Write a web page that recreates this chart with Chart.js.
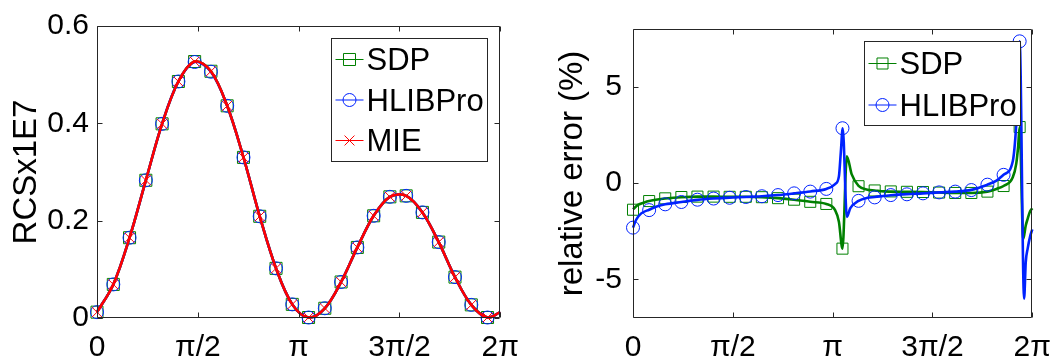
<!DOCTYPE html>
<html><head><meta charset="utf-8">
<script src="https://cdn.jsdelivr.net/npm/chart.js@4.4.1/dist/chart.umd.min.js"></script>
<style>
html,body{margin:0;padding:0;background:#fff;}
#wrap{position:relative;width:1063px;height:363px;overflow:hidden;background:#fff;}
canvas{position:absolute;top:0;}
</style></head><body>
<div id="wrap">
<canvas id="c1" width="531" height="363" style="left:0"></canvas>
<canvas id="c2" width="532" height="363" style="left:531px"></canvas>
</div>
<script>
const PI = Math.PI;
// x ticks (shared)
const xTickValues = [0, PI/2, PI, 3*PI/2, 2*PI];
const xTickLabels = ['0', 'π/2', 'π', '3π/2', '2π'];

// ---- Left panel: RCS ----
const rcsYTicks = [0, 0.2, 0.4, 0.6];
const rcsYTickLabels = ['0', '0.2', '0.4', '0.6'];
const rcsTheta = [0, 0.254, 0.507, 0.761, 1.014, 1.268, 1.521, 1.775, 2.028, 2.282, 2.535, 2.789, 3.042,
                  3.296, 3.549, 3.803, 4.056, 4.310, 4.563, 4.817, 5.070, 5.324, 5.577, 5.831, 6.084, 6.283];
const rcsSDP     = [0.012, 0.069, 0.165, 0.283, 0.399, 0.486, 0.527, 0.507, 0.436, 0.330, 0.209, 0.102, 0.028,
                    0.001, 0.020, 0.074, 0.145, 0.210, 0.249, 0.251, 0.217, 0.156, 0.084, 0.027, 0.001, 0.012];
const rcsHLIBPro = [0.012, 0.069, 0.165, 0.283, 0.399, 0.486, 0.526, 0.506, 0.436, 0.330, 0.209, 0.102, 0.028,
                    0.001, 0.020, 0.074, 0.145, 0.210, 0.249, 0.251, 0.217, 0.156, 0.084, 0.027, 0.001, 0.012];
const rcsMIE     = [0.012, 0.069, 0.165, 0.283, 0.399, 0.486, 0.527, 0.507, 0.436, 0.330, 0.209, 0.102, 0.028,
                    0.001, 0.020, 0.074, 0.145, 0.210, 0.249, 0.251, 0.217, 0.156, 0.084, 0.027, 0.001, 0.012];
const rcsMarkerCount = 25;

// ---- Right panel: relative error (%) ----
const errYTicks = [-5, 0, 5];
const errYTickLabels = ['-5', '0', '5'];
const errMarkerTheta = [0, 0.254, 0.507, 0.761, 1.014, 1.268, 1.521, 1.775, 2.028, 2.282, 2.535, 2.789, 3.042,
                        3.296, 3.549, 3.803, 4.056, 4.310, 4.563, 4.817, 5.070, 5.324, 5.577, 5.831, 6.084];
const errSDPMarkers = [-1.38, -0.93, -0.79, -0.72, -0.70, -0.70, -0.71, -0.71, -0.73, -0.78, -0.86, -0.97, -1.08,
                       -3.40, -0.16, -0.38, -0.43, -0.45, -0.46, -0.49, -0.51, -0.51, -0.44, -0.15, 2.91];
const errHLIBProMarkers = [-2.31, -1.40, -1.10, -0.98, -0.86, -0.80, -0.76, -0.72, -0.68, -0.62, -0.53, -0.44, -0.30,
                           2.85, -0.92, -0.74, -0.62, -0.58, -0.53, -0.48, -0.44, -0.36, -0.08, 0.43, 7.36];
const errSDPLineTheta = [0, 0.077, 0.18, 0.254, 0.385, 0.507, 0.761, 1.014, 1.268, 1.521, 1.775, 2.028, 2.282, 2.535,
                         2.789, 3.042, 3.18, 3.24, 3.296, 3.365, 3.44, 3.549, 3.69, 3.803, 3.95, 4.056, 4.310, 4.563,
                         4.817, 5.070, 5.324, 5.577, 5.72, 5.831, 5.976, 6.03, 6.06, 6.084, 6.14, 6.18, 6.21, 6.25, 6.283];
const errSDPLine = [-1.36, -1.13, -1.00, -0.93, -0.85, -0.80, -0.73, -0.70, -0.70, -0.71, -0.71, -0.73, -0.78, -0.86,
                    -0.97, -1.08, -1.40, -2.00, -3.40, 1.39, 0.47, -0.14, -0.34, -0.38, -0.43, -0.44, -0.45, -0.46,
                    -0.49, -0.51, -0.51, -0.44, -0.30, -0.15, 0.30, 1.00, 1.90, 2.91, -2.90, -2.20, -1.85, -1.45, -1.30];
const errHLIBProLineTheta = [0, 0.05, 0.13, 0.254, 0.385, 0.507, 0.761, 1.014, 1.268, 1.521, 1.775, 2.028, 2.282, 2.535,
                             2.789, 3.042, 3.18, 3.24, 3.27, 3.300, 3.365, 3.42, 3.549, 3.69, 3.803, 4.056, 4.310, 4.563,
                             4.817, 5.070, 5.324, 5.577, 5.72, 5.831, 5.976, 6.03, 6.06, 6.084, 6.154, 6.18, 6.21, 6.25, 6.283];
const errHLIBProLine = [-2.31, -1.90, -1.57, -1.38, -1.20, -1.10, -0.98, -0.87, -0.80, -0.75, -0.72, -0.68, -0.62, -0.53,
                        -0.43, -0.30, -0.05, 0.35, 1.60, 2.85, -1.75, -1.30, -0.92, -0.76, -0.72, -0.63, -0.57, -0.53,
                        -0.48, -0.44, -0.35, -0.08, 0.13, 0.43, 1.14, 3.00, 5.00, 7.36, -6.00, -4.10, -3.40, -2.75, -2.40];

// colours
const GREEN = '#008000', BLUE = '#0022ff', RED = '#ff0000', AXIS = '#262626';
const FONT = '"Liberation Sans", Arial, Helvetica, sans-serif';
Chart.defaults.font.family = FONT;
Chart.defaults.color = '#000';

function pts(xs, ys, n) {
  const out = [];
  const m = n === undefined ? xs.length : n;
  for (let i = 0; i < m; i++) out.push({x: xs[i], y: ys[i]});
  return out;
}

function drawMarker(ctx, style, x, y, r, color) {
  ctx.save();
  ctx.strokeStyle = color; ctx.lineWidth = 1;
  ctx.beginPath();
  if (style === 'rect') {
    const s = r * Math.SQRT1_2;
    ctx.rect(x - s, y - s, 2 * s, 2 * s);
  } else if (style === 'circle') {
    ctx.arc(x, y, r, 0, 2 * PI);
  } else {
    const s = r * Math.SQRT1_2;
    ctx.moveTo(x - s, y - s); ctx.lineTo(x + s, y + s);
    ctx.moveTo(x - s, y + s); ctx.lineTo(x + s, y - s);
  }
  ctx.stroke();
  ctx.restore();
}

const matAxes = {
  id: 'matAxes',
  afterDraw(chart, args, opts) {
    const {ctx, chartArea: a, scales} = chart;
    const x = scales.x, y = scales.y;
    ctx.save();
    ctx.strokeStyle = AXIS; ctx.lineWidth = 1;
    const L = Math.round(a.left) + 0.5, R = Math.round(a.right) - 0.5;
    const T = Math.round(a.top) + 0.5, B = Math.round(a.bottom) - 0.5;
    ctx.beginPath();
    ctx.rect(L, T, R - L, B - T);
    for (const t of x.ticks) {
      const p = Math.round(x.getPixelForValue(t.value)) + 0.5;
      ctx.moveTo(p, B); ctx.lineTo(p, B - 5);
      ctx.moveTo(p, T); ctx.lineTo(p, T + 5);
    }
    for (const t of y.ticks) {
      const p = Math.round(y.getPixelForValue(t.value)) + 0.5;
      ctx.moveTo(L, p); ctx.lineTo(L + 5, p);
      ctx.moveTo(R, p); ctx.lineTo(R - 5, p);
    }
    ctx.stroke();
    // legend
    const lg = opts.legend;
    if (lg) {
      const bx = Math.round(a.right - lg.inset - lg.width) + 0.5;
      const by = Math.round(a.top + lg.top) + 0.5;
      ctx.fillStyle = '#fff';
      ctx.fillRect(bx, by, lg.width, lg.height);
      ctx.strokeStyle = AXIS; ctx.lineWidth = 1;
      ctx.strokeRect(bx, by, lg.width, lg.height);
      ctx.font = '31px ' + FONT;
      ctx.textBaseline = 'middle';
      ctx.textAlign = 'left';
      lg.items.forEach((it, i) => {
        const cy = by + lg.first + i * lg.step;
        ctx.strokeStyle = it.color; ctx.lineWidth = 1;
        ctx.beginPath();
        ctx.moveTo(bx + 4, cy); ctx.lineTo(bx + 32, cy);
        ctx.stroke();
        drawMarker(ctx, it.style, bx + 18, cy, it.r, it.color);
        ctx.fillStyle = '#000';
        ctx.fillText(it.label, bx + 35, cy + 2);
      });
    }
    ctx.restore();
  }
};

function xScale() {
  return {
    type: 'linear', min: 0, max: 2 * PI,
    grid: {display: false, drawTicks: false}, border: {display: false},
    afterBuildTicks: s => { s.ticks = xTickValues.map(v => ({value: v})); },
    afterFit: s => { s.height = 45; },
    ticks: {
      padding: 12, maxRotation: 0, autoSkip: false,
      font: {size: 30, family: FONT}, color: '#000',
      callback: (v, i) => xTickLabels[i]
    }
  };
}

function yScale(min, max, vals, labels, width, title, tpad, lpad) {
  return {
    type: 'linear', min: min, max: max,
    grid: {display: false, drawTicks: false}, border: {display: false},
    afterBuildTicks: s => { s.ticks = vals.map(v => ({value: v})); },
    afterFit: s => { s.width = width; },
    ticks: {
      padding: lpad, autoSkip: false,
      font: {size: 30, family: FONT}, color: '#000',
      callback: (v, i) => labels[i]
    },
    title: {display: true, text: title, font: {size: 33, family: FONT}, color: '#000', padding: {top: tpad, bottom: 0}}
  };
}

function lineDS(xs, ys, color, order, extra) {
  return Object.assign({
    type: 'line', data: pts(xs, ys), borderColor: color, borderWidth: 2.6,
    pointRadius: 0, fill: false, order: order, clip: 2
  }, extra || {});
}
function markDS(xs, ys, n, color, style, r, order) {
  return {
    type: 'line', data: pts(xs, ys, n), showLine: false, borderColor: color,
    pointStyle: style, pointRadius: r, pointBorderColor: color, pointBackgroundColor: 'rgba(0,0,0,0)',
    pointBorderWidth: 1, order: order, clip: false
  };
}

new Chart(document.getElementById('c1'), {
  type: 'line',
  data: {datasets: [
    markDS(rcsTheta, rcsMIE, rcsMarkerCount, RED, 'crossRot', 7, 1),
    lineDS(rcsTheta, rcsMIE, RED, 2, {tension: 0.35}),
    markDS(rcsTheta, rcsHLIBPro, rcsMarkerCount, BLUE, 'circle', 6.5, 3),
    lineDS(rcsTheta, rcsHLIBPro, BLUE, 4, {tension: 0.35}),
    markDS(rcsTheta, rcsSDP, rcsMarkerCount, GREEN, 'rect', 8.5, 5),
    lineDS(rcsTheta, rcsSDP, GREEN, 6, {tension: 0.35})
  ]},
  options: {
    responsive: false, maintainAspectRatio: false, animation: false, devicePixelRatio: 1,
    events: [],
    layout: {padding: {left: 0, right: 26, top: 21, bottom: 0}},
    plugins: {
      legend: {display: false}, tooltip: {enabled: false},
      matAxes: {legend: {inset: 13, top: 12, width: 156, height: 123, first: 21, step: 40.5, items: [
        {label: 'SDP', color: GREEN, style: 'rect', r: 8.5},
        {label: 'HLIBPro', color: BLUE, style: 'circle', r: 6.5},
        {label: 'MIE', color: RED, style: 'crossRot', r: 7}
      ]}}
    },
    scales: {
      x: xScale(),
      y: yScale(0, 0.6, rcsYTicks, rcsYTickLabels, 97, 'RCSx1E7', 7.5, 8)
    }
  },
  plugins: [matAxes]
});

new Chart(document.getElementById('c2'), {
  type: 'line',
  data: {datasets: [
    markDS(errMarkerTheta, errHLIBProMarkers, errMarkerTheta.length, BLUE, 'circle', 6.5, 1),
    lineDS(errHLIBProLineTheta, errHLIBProLine, BLUE, 2, {cubicInterpolationMode: 'monotone', tension: 0.4}),
    markDS(errMarkerTheta, errSDPMarkers, errMarkerTheta.length, GREEN, 'rect', 7.8, 3),
    lineDS(errSDPLineTheta, errSDPLine, GREEN, 4, {cubicInterpolationMode: 'monotone', tension: 0.4})
  ]},
  options: {
    responsive: false, maintainAspectRatio: false, animation: false, devicePixelRatio: 1,
    events: [],
    layout: {padding: {left: 0, right: 21, top: 21, bottom: 0}},
    plugins: {
      legend: {display: false}, tooltip: {enabled: false},
      matAxes: {legend: {inset: 12, top: 12, width: 156, height: 84, first: 22, step: 41.5, items: [
        {label: 'SDP', color: GREEN, style: 'rect', r: 7.8},
        {label: 'HLIBPro', color: BLUE, style: 'circle', r: 6.5}
      ]}}
    },
    scales: {
      x: xScale(),
      y: yScale(-7, 8, errYTicks, errYTickLabels, 102, 'relative error (%)', 22.5, 11)
    }
  },
  plugins: [matAxes]
});
</script>
</body></html>
